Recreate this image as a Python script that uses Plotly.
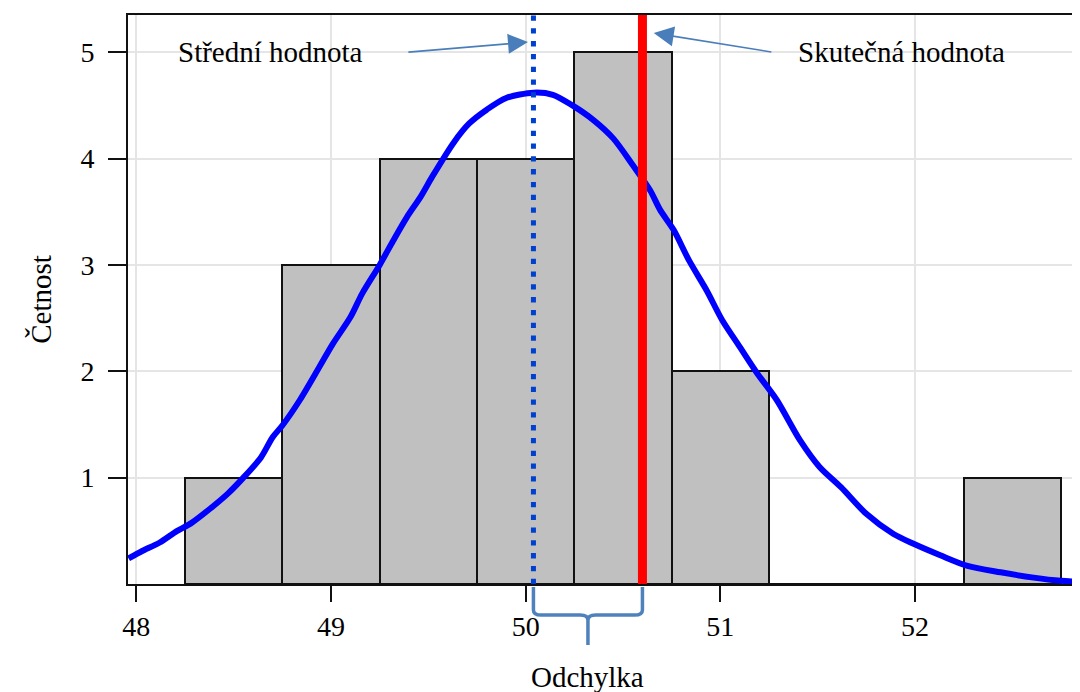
import plotly.graph_objects as go

# ---------------- data ----------------
bin_centers = [48.5, 49.0, 49.5, 50.0, 50.5, 51.0, 51.5, 52.0, 52.5]
counts = [1, 3, 4, 4, 5, 2, 0, 0, 1]
bin_width = 0.5

# fitted normal curve
curve_x = [47.96, 48.03, 48.12, 48.21, 48.28, 48.38, 48.47, 48.55, 48.64, 48.70,
           48.75, 48.84, 48.94, 49.01, 49.10, 49.16, 49.25, 49.32, 49.39, 49.46,
           49.52, 49.63, 49.71, 49.80, 49.90, 50.04, 50.14, 50.24, 50.35, 50.45,
           50.55, 50.64, 50.69, 50.76, 50.84, 50.93, 51.01, 51.10, 51.19, 51.29,
           51.41, 51.51, 51.62, 51.75, 51.89, 51.99, 52.13, 52.27, 52.44, 52.61,
           52.75, 52.85]
curve_y = [0.24, 0.31, 0.39, 0.50, 0.57, 0.71, 0.85, 1.00, 1.19, 1.38,
           1.49, 1.73, 2.04, 2.26, 2.51, 2.73, 3.00, 3.23, 3.45, 3.64,
           3.83, 4.15, 4.33, 4.46, 4.57, 4.62, 4.60, 4.50, 4.36, 4.19,
           3.94, 3.70, 3.52, 3.33, 3.04, 2.76, 2.48, 2.23, 1.98, 1.73,
           1.35, 1.10, 0.91, 0.66, 0.47, 0.38, 0.27, 0.17, 0.11, 0.06,
           0.03, 0.02]

mean_value = 50.04
true_value = 50.60

x_ticks = [48, 49, 50, 51, 52]
y_ticks = [1, 2, 3, 4, 5]
x_range = [47.957, 52.848]
y_range = [0, 5.35]

label_mean = "Střední hodnota"
label_true = "Skutečná hodnota"
label_dev = "Odchylka"
label_y = "Četnost"

# ---------------- styling ----------------
FONT = "Liberation Serif"
ARROW_COLOR = "#4a7ebb"
BRACE_COLOR = "#4f81bd"

fig = go.Figure()

fig.add_trace(go.Bar(
    x=bin_centers, y=counts, width=bin_width,
    marker=dict(color="#c0c0c0", line=dict(color="#111111", width=2)),
    showlegend=False, hoverinfo="skip",
))

fig.add_trace(go.Scatter(
    x=curve_x, y=curve_y, mode="lines",
    line=dict(color="#0000ff", width=6, shape="spline", smoothing=0.8),
    showlegend=False, hoverinfo="skip",
))

# vertical reference lines
fig.add_shape(type="line", xref="x", yref="paper", x0=mean_value, x1=mean_value,
              y0=0, y1=1, layer="above",
              line=dict(color="#0040d0", width=5, dash="5.3px,7.5px"))
fig.add_shape(type="line", xref="x", yref="paper", x0=true_value, x1=true_value,
              y0=0, y1=1, layer="above",
              line=dict(color="#ff0000", width=9))

# curly brace between mean and true value
yt, ym, yb = -0.0053, -0.0545, -0.1072
r, d = 0.009, 0.04
xc = (mean_value + true_value) / 2
x0, x1 = mean_value, true_value
brace = (f"M {x0},{yt} L {x0},{ym + r} Q {x0},{ym} {x0 + d},{ym} "
         f"L {xc - d},{ym} Q {xc},{ym} {xc},{ym - r} L {xc},{yb} "
         f"M {xc},{ym - r} Q {xc},{ym} {xc + d},{ym} "
         f"L {x1 - d},{ym} Q {x1},{ym} {x1},{ym + r} L {x1},{yt}")
fig.add_shape(type="path", xref="x", yref="paper", path=brace, layer="above",
              line=dict(color=BRACE_COLOR, width=3.5))

annotations = [
    dict(x=48.687, y=5.0, xref="x", yref="y", text=label_mean, showarrow=False,
         font=dict(family=FONT, size=29, color="#000000"),
         xanchor="center", yanchor="middle"),
    dict(x=51.933, y=5.0, xref="x", yref="y", text=label_true, showarrow=False,
         font=dict(family=FONT, size=29, color="#000000"),
         xanchor="center", yanchor="middle"),
    dict(x=50.012, y=5.095, ax=49.39, ay=5.0, xref="x", yref="y",
         axref="x", ayref="y", text="", showarrow=True, arrowhead=2,
         arrowsize=2.5, arrowwidth=1.6, arrowcolor=ARROW_COLOR),
    dict(x=50.658, y=5.18, ax=51.27, ay=5.0, xref="x", yref="y",
         axref="x", ayref="y", text="", showarrow=True, arrowhead=2,
         arrowsize=2.5, arrowwidth=1.6, arrowcolor=ARROW_COLOR),
    dict(x=xc, y=-0.163, xref="x", yref="paper", text=label_dev, showarrow=False,
         font=dict(family=FONT, size=29, color="#000000"),
         xanchor="center", yanchor="middle"),
]

# the page body adds an 8px offset, so the figure is sized to fill the rest
fig.update_layout(
    width=1072, height=684,
    margin=dict(l=120, r=0, t=7, b=108),
    paper_bgcolor="white", plot_bgcolor="white",
    font=dict(family=FONT, size=28, color="#000000"),
    bargap=0,
    annotations=annotations,
)

fig.update_xaxes(
    range=x_range, tickvals=x_ticks, ticktext=[str(v) for v in x_ticks],
    showgrid=True, gridcolor="#e5e5e5", gridwidth=2,
    showline=True, linecolor="#111111", linewidth=2, mirror=True,
    ticks="outside", ticklen=16, tickwidth=2, tickcolor="#111111",
    tickfont=dict(family=FONT, size=28), ticklabelstandoff=0,
    zeroline=False,
)
fig.update_yaxes(
    range=y_range, tickvals=y_ticks, ticktext=[str(v) for v in y_ticks],
    showgrid=True, gridcolor="#e5e5e5", gridwidth=2,
    showline=True, linecolor="#111111", linewidth=2,
    ticks="outside", ticklen=18, tickwidth=2, tickcolor="#111111",
    tickfont=dict(family=FONT, size=28), ticklabelstandoff=8,
    zeroline=False,
    title=dict(text=label_y, font=dict(family=FONT, size=29), standoff=20),
)

fig.write_html("out.html")
